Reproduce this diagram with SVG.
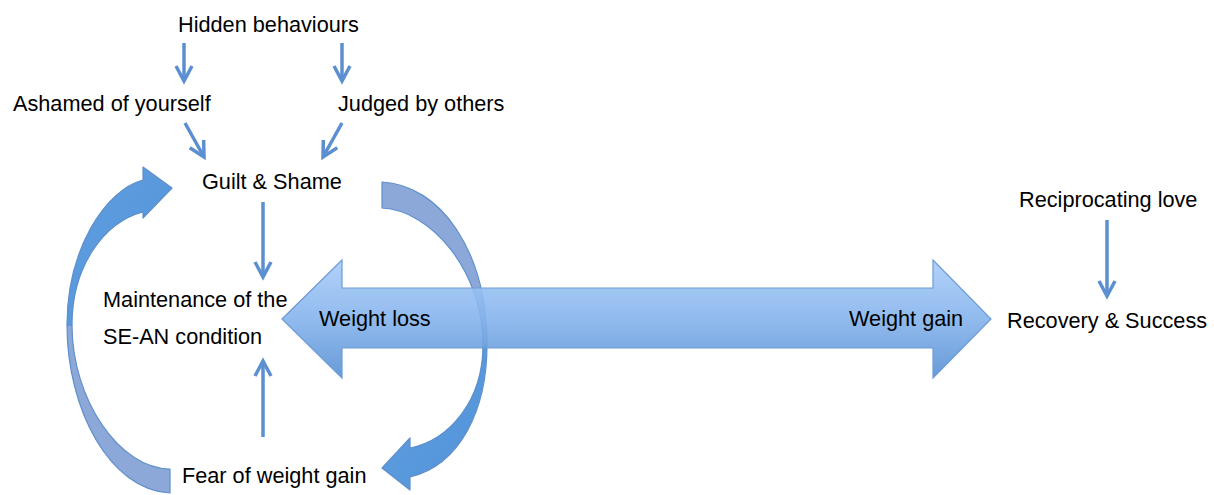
<svg xmlns="http://www.w3.org/2000/svg" width="1214" height="495" viewBox="0 0 1214 495">
  <style>
    .lbl { font-family: "Liberation Sans", Arial, sans-serif; font-size: 21.7px; fill: #000; }
    .thin { stroke: #5b8fd0; stroke-width: 3.5; fill: none; marker-end: url(#chev); }
    .edge { stroke: #5f8fcc; stroke-width: 1.2; stroke-linejoin: round; }
    .front { fill: url(#frontGrad); }
    .back { fill: #8ba8d8; }
  </style>
  <defs>
    <marker id="chev" viewBox="-20 -12 24 24" refX="0" refY="0" markerWidth="24" markerHeight="24" markerUnits="userSpaceOnUse" orient="auto" overflow="visible">
      <path d="M-15,-8 L0,0 L-15,8" fill="none" stroke="#5b8fd0" stroke-width="3.5" stroke-linejoin="miter"/>
    </marker>
    <linearGradient id="barGrad" x1="0" y1="0" x2="0" y2="1">
      <stop offset="0" stop-color="#a9cdf9"/>
      <stop offset="0.5" stop-color="#85b3ec"/>
      <stop offset="1" stop-color="#5790d2"/>
    </linearGradient>
    <linearGradient id="frontGrad" x1="0" y1="0" x2="1" y2="1">
      <stop offset="0" stop-color="#5f9fe0"/>
      <stop offset="1" stop-color="#5292d8"/>
    </linearGradient>
  </defs>

  <!-- connectors -->
  <g id="connectors">
    <!-- left loop: Fear of weight gain back up to Guilt & Shame -->
    <g id="loop-left">
      <path class="back edge" d="M67,325 C67,410 110,490 170,493 L170,469 C120,469 72,400 72,325 Z"/>
      <path class="front edge" d="M67,325 C67,250 105,190 143,180 L143,167 L172,188 L143,218 L143,212 C105,222 72,265 72,325 Z"/>
    </g>
    <!-- right loop: Guilt & Shame down to Fear of weight gain -->
    <g id="loop-right">
      <path class="back edge" d="M382,182 C440,185 487,250 487,345 L483,345 C483,270 430,210 382,208 Z"/>
      <path class="front edge" d="M487,345 C487,410 460,465 410,477 L410,490 L382,468 L410,438 L410,448 C450,440 483,400 483,345 Z"/>
    </g>
    <!-- weight loss / weight gain axis -->
    <path id="axis" fill="url(#barGrad)" fill-opacity="0.9" stroke="#6d9bd6" stroke-width="1.2" stroke-linejoin="miter"
          d="M282,319 L342,260 L342,288 L933,288 L933,260 L991,319 L933,378 L933,348 L342,348 L342,378 Z"/>

    <line class="thin" x1="184" y1="43" x2="184" y2="81"/>
    <line class="thin" x1="342" y1="43" x2="342" y2="81"/>
    <line class="thin" x1="185" y1="123" x2="204" y2="157"/>
    <line class="thin" x1="342" y1="123" x2="323" y2="157"/>
    <line class="thin" x1="263" y1="202" x2="263" y2="277"/>
    <line class="thin" x1="263" y1="437" x2="263" y2="361"/>
    <line class="thin" x1="1107" y1="220" x2="1107" y2="296"/>
  </g>

  <g id="hidden-behaviours"><text class="lbl" x="178" y="32">Hidden behaviours</text></g>
  <g id="ashamed"><text class="lbl" x="13" y="111">Ashamed of yourself</text></g>
  <g id="judged"><text class="lbl" x="338" y="111">Judged by others</text></g>
  <g id="guilt-shame"><text class="lbl" x="202" y="189">Guilt &amp; Shame</text></g>
  <g id="maintenance">
    <text class="lbl" x="103" y="307">Maintenance of the</text>
    <text class="lbl" x="103" y="344">SE-AN condition</text>
  </g>
  <g id="weight-loss"><text class="lbl" x="319" y="326">Weight loss</text></g>
  <g id="weight-gain"><text class="lbl" x="849" y="326">Weight gain</text></g>
  <g id="fear"><text class="lbl" x="182" y="483">Fear of weight gain</text></g>
  <g id="reciprocating"><text class="lbl" x="1019" y="207">Reciprocating love</text></g>
  <g id="recovery"><text class="lbl" x="1007" y="328">Recovery &amp; Success</text></g>
</svg>
